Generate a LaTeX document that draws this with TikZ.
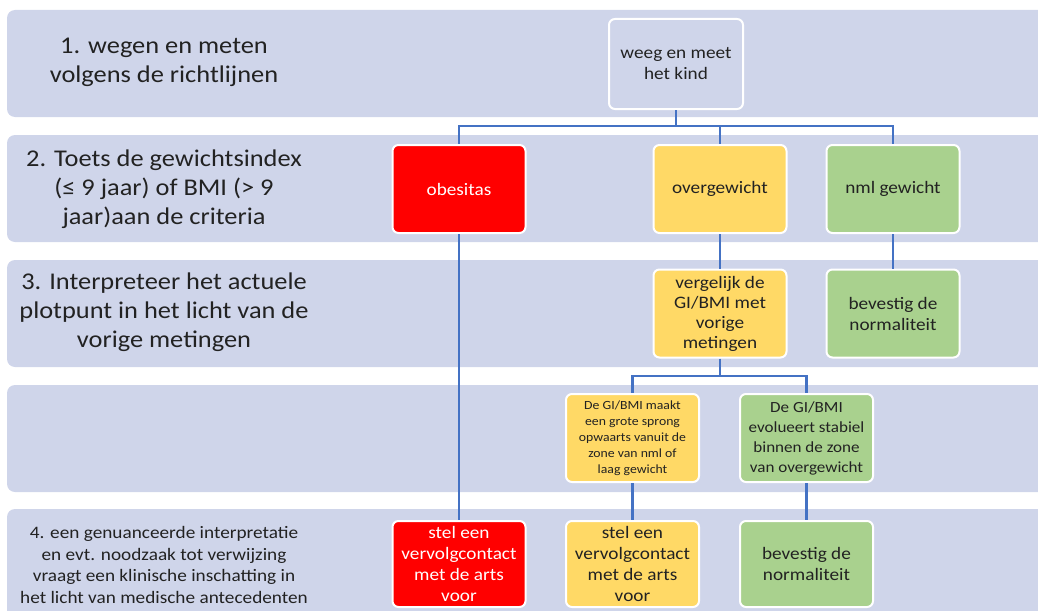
\documentclass[tikz,border=0pt]{standalone}
\usepackage{fontspec}
\setmainfont{Carlito}[FakeStretch=1.1]
\definecolor{bandblue}{HTML}{CFD5EA}
\definecolor{linkblue}{HTML}{4472C4}
\definecolor{obesred}{HTML}{FF0000}
\definecolor{overgold}{HTML}{FFD966}
\definecolor{nmlgreen}{HTML}{A9D18E}
\definecolor{darktext}{HTML}{222222}
\tikzset{
  band/.style={fill=bandblue, rounded corners=8pt},
  stage/.style={align=center, text=darktext, font=\fontsize{24}{29}\selectfont},
  box/.style={draw=white, line width=2pt, rounded corners=6pt, align=center,
    minimum width=133pt, minimum height=88pt, inner sep=2pt, text=darktext,
    font=\fontsize{17.5}{21}\selectfont},
  conn/.style={draw=linkblue, line width=2.5pt}
}
\begin{document}
\begin{tikzpicture}[x=1pt, y=-1pt]
  \useasboundingbox (0,0) rectangle (1038,610);
  \clip (0,0) rectangle (1038,610);
  % bands
  \fill[band] (7,10) rectangle (1060,117);
  \fill[band] (7,135) rectangle (1060,242);
  \fill[band] (7,260) rectangle (1060,367);
  \fill[band] (7,385) rectangle (1060,492);
  \fill[band] (7,509) rectangle (1060,640);

  % stage labels
  \node[stage] (s1) at (164,62) {1. wegen en meten\\volgens de richtlijnen};
  \node[stage] (s2) at (164,189) {2. Toets de gewichtsindex\\(≤ 9 jaar) of BMI (> 9\\jaar)aan de criteria};
  \node[stage] (s3) at (164,312) {3. Interpreteer het actuele\\plotpunt in het licht van de\\vorige metingen};
  \node[stage, font=\fontsize{17.5}{21.5}\selectfont] (s4) at (164,565)
    {4. een genuanceerde interpretatie\\en evt. noodzaak tot verwijzing\\vraagt een klinische inschatting in\\het licht van medische antecedenten};

  % boxes
  \node[box, minimum width=134pt, minimum height=90pt] (weeg) at (676,64) {weeg en meet\\het kind};
  \node[box, fill=obesred, text=white] (obes) at (459,189) {obesitas};
  \node[box, fill=overgold] (over) at (720,189) {overgewicht};
  \node[box, fill=nmlgreen] (nml) at (893,189) {nml gewicht};
  \node[box, fill=overgold, font=\fontsize{17.5}{20}\selectfont] (verg) at (720,313.5)
    {vergelijk de\\GI/BMI met\\vorige\\metingen};
  \node[box, fill=nmlgreen] (bev1) at (893,313.5) {bevestig de\\normaliteit};
  \node[box, fill=overgold, font=\fontsize{12.5}{16}\selectfont] (sprong) at (632.5,438)
    {De GI/BMI maakt\\een grote sprong\\opwaarts vanuit de\\zone van nml of\\laag gewicht};
  \node[box, fill=nmlgreen, font=\fontsize{15.5}{20}\selectfont] (stabiel) at (806.5,438)
    {De GI/BMI\\evolueert stabiel\\binnen de zone\\van overgewicht};
  \node[box, fill=obesred, text=white, minimum height=86pt] (arts1) at (459,564)
    {stel een\\vervolgcontact\\met de arts\\voor};
  \node[box, fill=overgold, minimum height=86pt] (arts2) at (632.5,564)
    {stel een\\vervolgcontact\\met de arts\\voor};
  \node[box, fill=nmlgreen, minimum height=86pt] (bev2) at (806.5,564) {bevestig de\\normaliteit};

  % connectors
  \coordinate (bar1) at (676,126);
  \coordinate (bar2) at (720,376);
  \draw[conn] (weeg.south) -- (bar1) -| (obes.north);
  \draw[conn] (bar1) -| (over.north);
  \draw[conn] (bar1) -| (nml.north);
  \draw[conn] (over) -- (verg);
  \draw[conn] (nml) -- (bev1);
  \draw[conn] (verg.south) -- (bar2) -| (sprong.north);
  \draw[conn] (bar2) -| (stabiel.north);
  \draw[conn] (obes) -- (arts1);
  \draw[conn] (sprong) -- (arts2);
  \draw[conn] (stabiel) -- (bev2);
\end{tikzpicture}
\end{document}
